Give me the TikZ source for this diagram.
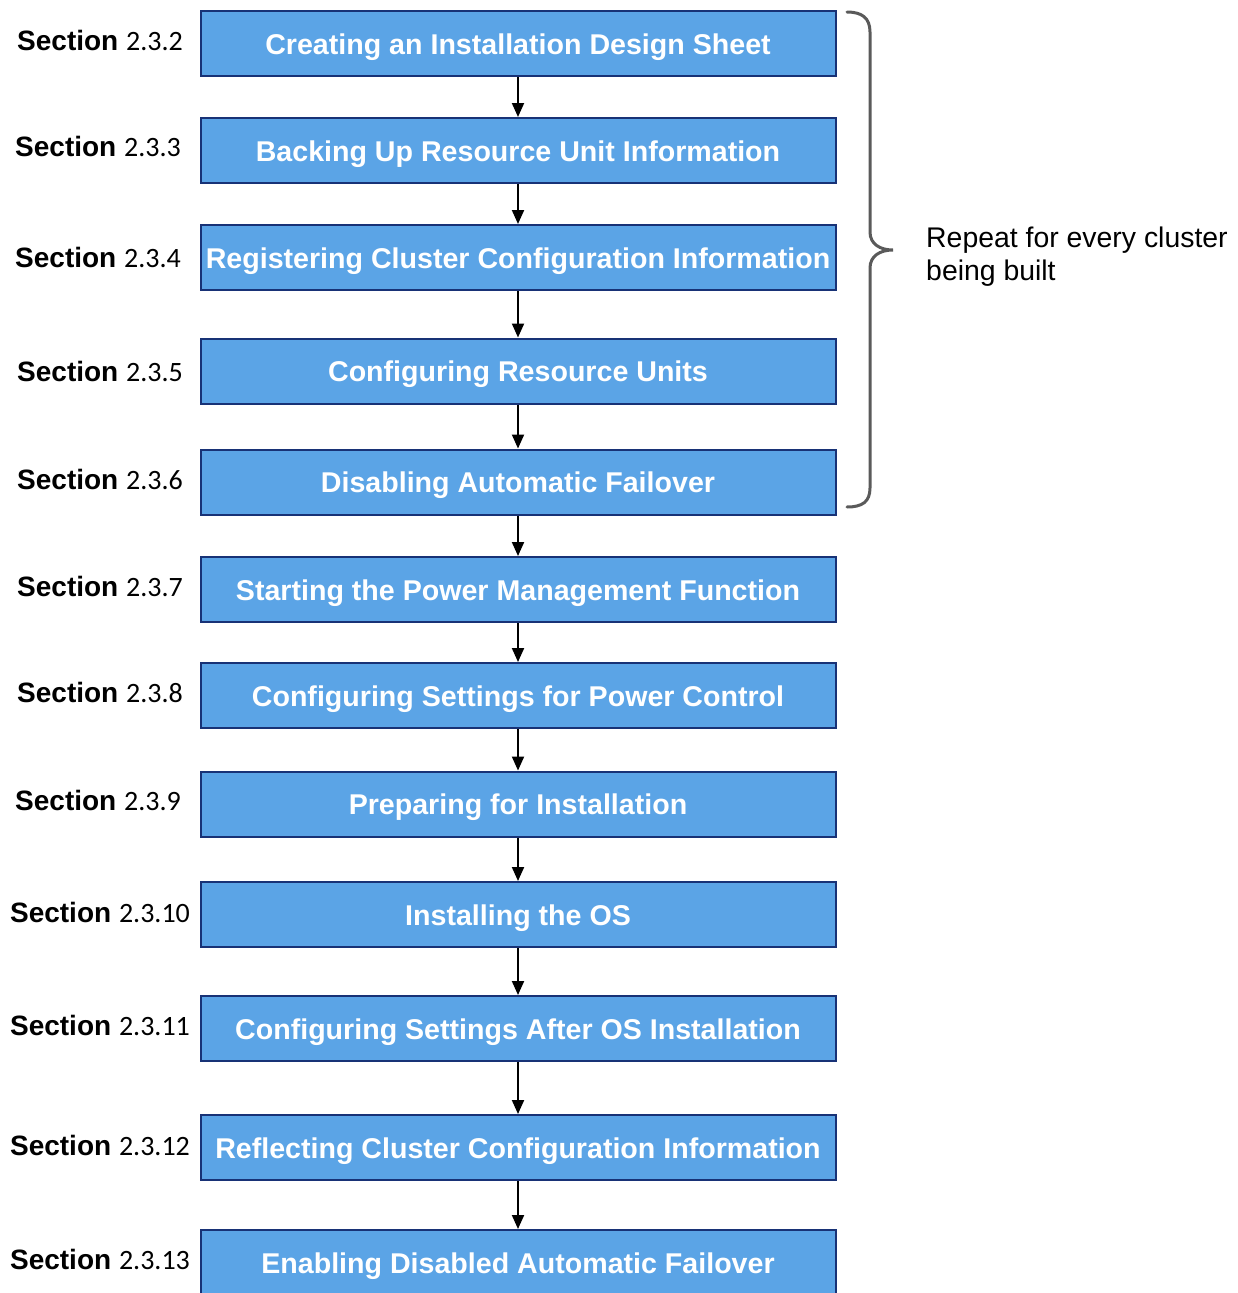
\documentclass[tikz,border=0pt]{standalone}
\usepackage{fontspec}
\setmainfont{Liberation Sans}
\newfontfamily\numfont{Carlito}
\usetikzlibrary{arrows.meta}
\definecolor{boxfill}{RGB}{91,164,230}
\definecolor{boxline}{RGB}{24,50,118}
\definecolor{bracegray}{RGB}{90,90,90}
\tikzset{
  x=1pt, y=-1pt,
  stepbox/.style={draw=boxline, line width=2pt, fill=boxfill,
    minimum width=635pt, minimum height=65pt, inner sep=0pt,
    text height=22pt, text depth=1pt,
    text=white, font=\fontsize{28.6}{30}\selectfont\bfseries},
  seclabel/.style={font=\fontsize{28}{30}\selectfont, inner sep=0pt, text=black},
  flow/.style={line width=2pt, -{Triangle[length=14pt,width=12pt]}},
}
\newcommand{\secnum}[1]{\textbf{Section} {\numfont #1}}
\begin{document}
\begin{tikzpicture}
\useasboundingbox (0,0) rectangle (1238,1293);
% process steps
\node[stepbox] (s1)  at (518,43.5)  {Creating an Installation Design Sheet};
\node[stepbox] (s2)  at (518,150.5) {Backing Up Resource Unit Information};
\node[stepbox] (s3)  at (518,257.5) {Registering Cluster Configuration Information};
\node[stepbox] (s4)  at (518,371)   {Configuring Resource Units};
\node[stepbox] (s5)  at (518,482)   {Disabling Automatic Failover};
\node[stepbox] (s6)  at (518,589.5) {Starting the Power Management Function};
\node[stepbox] (s7)  at (518,695.5) {Configuring Settings for Power Control};
\node[stepbox] (s8)  at (518,804)   {Preparing for Installation};
\node[stepbox] (s9)  at (518,914.5) {Installing the OS};
\node[stepbox] (s10) at (518,1028.5){Configuring Settings After OS Installation};
\node[stepbox] (s11) at (518,1147.5){Reflecting Cluster Configuration Information};
\node[stepbox] (s12) at (518,1262.5){Enabling Disabled Automatic Failover};
% section references
\node[seclabel] (l1)  at (100,40)   {\secnum{2.3.2}};
\node[seclabel] (l2)  at (98,146)   {\secnum{2.3.3}};
\node[seclabel] (l3)  at (98,257)   {\secnum{2.3.4}};
\node[seclabel] (l4)  at (100,371)  {\secnum{2.3.5}};
\node[seclabel] (l5)  at (100,479)  {\secnum{2.3.6}};
\node[seclabel] (l6)  at (100,586)  {\secnum{2.3.7}};
\node[seclabel] (l7)  at (100,692)  {\secnum{2.3.8}};
\node[seclabel] (l8)  at (98,800)   {\secnum{2.3.9}};
\node[seclabel] (l9)  at (100,912)  {\secnum{2.3.10}};
\node[seclabel] (l10) at (100,1025) {\secnum{2.3.11}};
\node[seclabel] (l11) at (100,1145) {\secnum{2.3.12}};
\node[seclabel] (l12) at (100,1259) {\secnum{2.3.13}};
% flow arrows
\foreach \a/\b in {s1/s2,s2/s3,s3/s4,s4/s5,s5/s6,s6/s7,s7/s8,s8/s9,s9/s10,s10/s11,s11/s12}
  \draw[flow] (\a.south) -- (\b.north);
% brace around the repeated steps
\draw[bracegray, line width=3pt, line cap=round]
  (847,12) .. controls (862,12) and (870,18) .. (870,32) -- (870,232)
  .. controls (870,244) and (880,250) .. (893,250)
  .. controls (880,250) and (870,256) .. (870,268) -- (870,488)
  .. controls (870,502) and (862,507) .. (847,507);
\node[anchor=west, align=left, inner sep=0pt, font=\fontsize{28.4}{33}\selectfont] (note) at (926,257)
  {Repeat for every cluster\\being built};
\end{tikzpicture}
\end{document}
